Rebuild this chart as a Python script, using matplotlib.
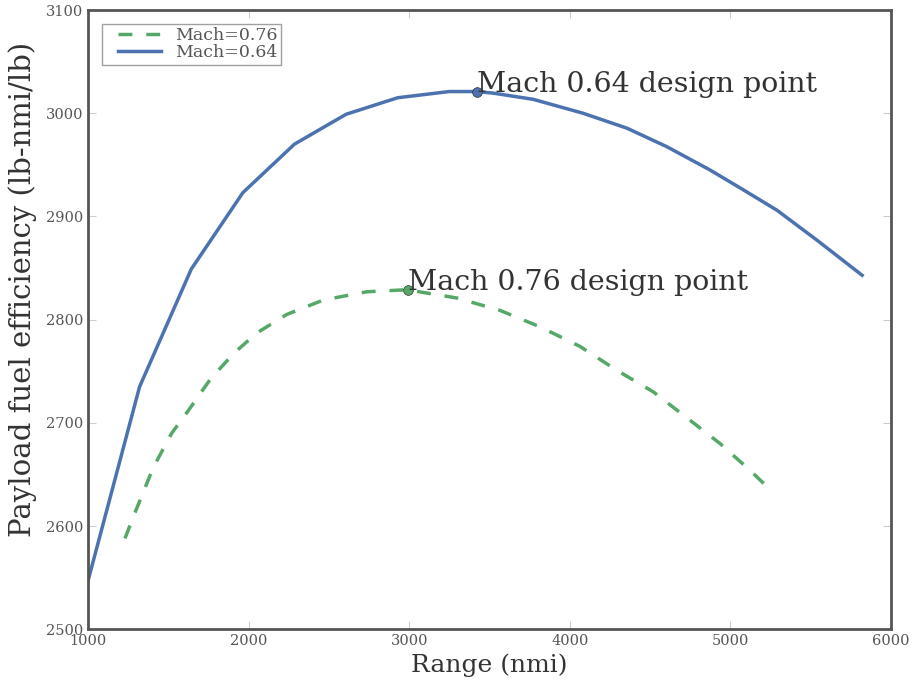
import matplotlib
matplotlib.use("Agg")
import matplotlib.pyplot as plt
from matplotlib.legend_handler import HandlerLine2D

# Mach 0.64 series
range_064 = [1000, 1321, 1643, 1964, 2285, 2607, 2928, 3249, 3420, 3522,
             3771, 4082, 4356, 4605, 4873, 5078, 5290, 5539, 5820]
eff_064 = [2547, 2735, 2849, 2923, 2970, 2999, 3015, 3021, 3021, 3019.5,
           3013.5, 3000, 2985.5, 2967.5, 2945, 2926, 2906, 2877, 2843]

# Mach 0.76 series
range_076 = [1230, 1282, 1407, 1521, 1625, 1760, 1905, 2050, 2237, 2465,
             2735, 2984, 3296, 3565, 3815, 4064, 4292, 4520, 4728, 4935,
             5122, 5236]
eff_076 = [2588, 2609, 2657, 2690, 2712, 2742, 2767, 2787, 2805, 2819,
           2827, 2829, 2821, 2809, 2793, 2774, 2751, 2730, 2705, 2680,
           2654, 2637]

design_064 = (3420, 3021)
design_076 = (2990, 2829)

xticks = [1000, 2000, 3000, 4000, 5000, 6000]
yticks = [2500, 2600, 2700, 2800, 2900, 3000, 3100]

blue = "#4C72B0"
green = "#55A868"

fig = plt.figure(figsize=(9.15, 6.91), dpi=100)
ax = fig.add_axes([0.0962, 0.0893, 0.8776, 0.8962])

ax.plot(range_076, eff_076, linestyle="--", color=green, lw=2.5,
        dashes=(4, 4), label="Mach=0.76")
ax.plot(range_064, eff_064, linestyle="-", color=blue, lw=2.5,
        label="Mach=0.64")

ax.plot([design_064[0]], [design_064[1]], "o", color=blue, ms=7,
        mec="#333333", mew=0.5)
ax.plot([design_076[0]], [design_076[1]], "o", color=green, ms=7,
        mec="#333333", mew=0.5)
ax.text(design_064[0], design_064[1], "Mach 0.64 design point",
        family="DejaVu Serif", fontsize=20.5, color="#333333",
        ha="left", va="baseline")
ax.text(design_076[0], design_076[1], "Mach 0.76 design point",
        family="DejaVu Serif", fontsize=20.5, color="#333333",
        ha="left", va="baseline")

ax.set_xlim(1000, 6000)
ax.set_ylim(2500, 3100)
ax.set_xticks(xticks)
ax.set_yticks(yticks)
ax.tick_params(direction="in", length=6, color="#cccccc",
               labelcolor="#555555", labelsize=10.5,
               top=True, right=True)
for lab in ax.get_xticklabels() + ax.get_yticklabels():
    lab.set_family("DejaVu Serif")

for sp in ax.spines.values():
    sp.set_color("#555555")
    sp.set_linewidth(2)

ax.set_xlabel("Range (nmi)", family="DejaVu Serif", fontsize=18,
              color="#333333", labelpad=4)
ax.set_ylabel("Payload fuel efficiency (lb-nmi/lb)", family="DejaVu Serif",
              fontsize=21, color="#333333")
ax.yaxis.set_label_coords(-0.063, 0.549)

hm = {ln: HandlerLine2D(xpad=0.75) for ln in ax.get_lines()[:2]}
leg = ax.legend(loc="upper left", prop={"family": "DejaVu Serif", "size": 12.5},
                frameon=True, fancybox=False, handlelength=3.2,
                borderpad=0.2, labelspacing=0.0, handletextpad=0.8,
                borderaxespad=0.8, handler_map=hm)
leg.get_frame().set_edgecolor("#888888")
leg.get_frame().set_linewidth(1)
for t in leg.get_texts():
    t.set_color("#555555")

fig.savefig("out.png", dpi=100)
